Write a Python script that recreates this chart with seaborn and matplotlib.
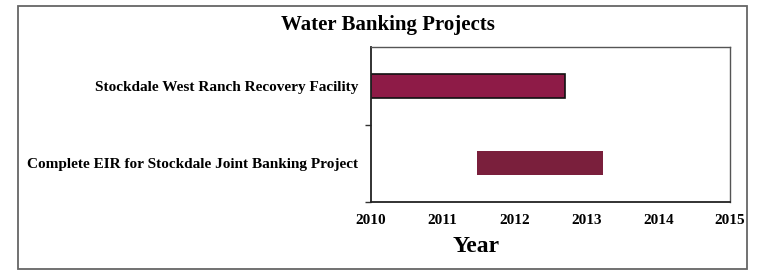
import numpy as np
import pandas as pd
import matplotlib
matplotlib.use("Agg")
import matplotlib.pyplot as plt
from matplotlib.patches import Rectangle
from matplotlib.ticker import FixedLocator
import seaborn as sns

# Data
tasks = ["Stockdale West Ranch Recovery Facility",
         "Complete EIR for Stockdale Joint Banking Project"]
starts = [2010.0, 2011.48]
ends = [2012.7, 2013.23]
bar_colors = ["#8e1b47", "#7a1f3c"]
edge_colors = ["#111111", "#7a1f3c"]
years = [2010, 2011, 2012, 2013, 2014, 2015]

df = pd.DataFrame({"task": tasks, "start": starts,
                   "duration": np.array(ends) - np.array(starts)})

sns.set_theme(style="white")
plt.rcParams["font.family"] = ["Liberation Serif", "DejaVu Serif"]
plt.rcParams["text.color"] = "black"
plt.rcParams["xtick.color"] = "black"
plt.rcParams["ytick.color"] = "black"
plt.rcParams["axes.labelcolor"] = "black"

fig = plt.figure(figsize=(7.57, 2.73), dpi=100)
ax = fig.add_axes([371 / 757, 1 - 202 / 273, 359 / 757, 155 / 273])

# one call per task so each bar gets its own start offset
for i, row in df.iterrows():
    sns.barplot(data=df.iloc[[i]], x="duration", y="task", order=tasks,
                color=bar_colors[i], saturation=1, left=row["start"], width=0.31,
                edgecolor=edge_colors[i], linewidth=1.2 if i == 0 else 0, ax=ax)

ax.set_xlim(2010, 2015)
ax.set_ylim(1.5, -0.5)
ax.set_xticks(years)
ax.set_xticklabels([str(y) for y in years], fontsize=11, fontweight="bold")
ax.tick_params(axis="x", direction="inout", length=4, width=1, color="#333333", pad=7)
ax.tick_params(axis="y", which="major", length=0, pad=9)
ax.yaxis.set_minor_locator(FixedLocator([0.5, 1.5]))
ax.tick_params(axis="y", which="minor", left=True, length=4, width=1, color="#333333")
for lbl in ax.get_yticklabels():
    lbl.set_fontsize(11)
    lbl.set_fontweight("bold")
ax.set_ylabel("")
ax.set_xlabel("Year", fontsize=17, fontweight="bold")
ax.xaxis.set_label_coords((476 - 371) / 359, -(247 - 202) / 155, transform=ax.transAxes)
ax.xaxis.label.set_va("center")

for side in ["left", "bottom"]:
    ax.spines[side].set_color("#222222")
    ax.spines[side].set_linewidth(1.3)
for side in ["top", "right"]:
    ax.spines[side].set_color("#555555")
    ax.spines[side].set_linewidth(1.0)

fig.text(388 / 757, 1 - 25 / 273, "Water Banking Projects", ha="center", va="center",
         fontsize=15, fontweight="bold")

fig.patches.append(Rectangle((18 / 757, 4 / 273), 729 / 757, 263 / 273,
                             transform=fig.transFigure, fill=False,
                             edgecolor="#666666", linewidth=1.3))

fig.savefig("out.png", dpi=100)
